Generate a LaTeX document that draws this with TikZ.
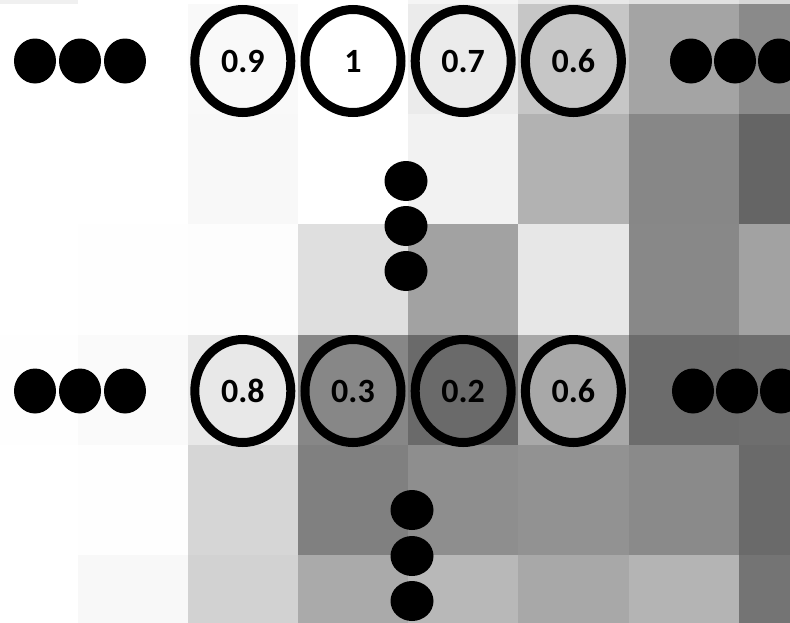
\documentclass[tikz,border=0pt]{standalone}
\usepackage{fontspec}
\setmainfont{Carlito}
\usetikzlibrary{shapes.geometric}
\newcommand\gcell[3]{\fill[color={rgb,255:red,#3;green,#3;blue,#3}] ({77.5+110.2*#1},{4+110.2*#2}) rectangle ++(110.4,110.4);}
\tikzset{
  valnode/.style={ellipse, draw=black, line width=9pt, minimum width=96pt, minimum height=103pt, inner sep=0pt,
    font=\bfseries\fontsize{34}{38}\selectfont},
  hdot/.style={ellipse, fill=black, minimum width=42pt, minimum height=45pt, inner sep=0pt},
  vdot/.style={ellipse, fill=black, minimum width=43pt, minimum height=40pt, inner sep=0pt}
}
\begin{document}
\begin{tikzpicture}[x=1pt,y=-1pt]
\useasboundingbox (0,0) rectangle (790,622);
\clip (0,0) rectangle (790,622);
\fill[white] (0,0) rectangle (790,622);
% background grid of grey cells: row -1
\foreach \c/\g in {-1/240,0/255,1/255,2/255,3/245,4/232,5/225,6/215} {\gcell{\c}{-1}{\g}}
% row 0
\foreach \c/\g in {-1/255,0/255,1/249,2/255,3/235,4/198,5/164,6/138} {\gcell{\c}{0}{\g}}
% row 1
\foreach \c/\g in {-1/255,0/255,1/248,2/255,3/242,4/178,5/135,6/101} {\gcell{\c}{1}{\g}}
% row 2
\foreach \c/\g in {-1/255,0/254,1/253,2/223,3/162,4/231,5/136,6/162} {\gcell{\c}{2}{\g}}
% row 3
\foreach \c/\g in {-1/254,0/250,1/232,2/135,3/106,4/168,5/108,6/110} {\gcell{\c}{3}{\g}}
% row 4
\foreach \c/\g in {-1/255,0/254,1/214,2/128,3/142,4/146,5/138,6/106} {\gcell{\c}{4}{\g}}
% row 5
\foreach \c/\g in {-1/255,0/248,1/210,2/170,3/184,4/168,5/180,6/116} {\gcell{\c}{5}{\g}}
% top row of values
\node[valnode] (a1) at (242.8,61) {0.9};
\node[valnode] (a2) at (353.0,61) {1};
\node[valnode] (a3) at (463.2,61) {0.7};
\node[valnode] (a4) at (573.4,61) {0.6};
% bottom row of values
\node[valnode] (b1) at (242.8,391) {0.8};
\node[valnode] (b2) at (353.0,391) {0.3};
\node[valnode] (b3) at (463.2,391) {0.2};
\node[valnode] (b4) at (573.4,391) {0.6};
% horizontal ellipsis dots
\node[hdot] (tl1) at (35,61) {};
\node[hdot] (tl2) at (80,61) {};
\node[hdot] (tl3) at (125,61) {};
\node[hdot] (tr1) at (691,61) {};
\node[hdot] (tr2) at (735,61) {};
\node[hdot] (tr3) at (779,61) {};
\node[hdot] (bl1) at (35,391) {};
\node[hdot] (bl2) at (80,391) {};
\node[hdot] (bl3) at (125,391) {};
\node[hdot] (br1) at (693,391) {};
\node[hdot] (br2) at (737,391) {};
\node[hdot] (br3) at (781,391) {};
% vertical ellipsis dots
\node[vdot] (tv1) at (406,181) {};
\node[vdot] (tv2) at (406,226) {};
\node[vdot] (tv3) at (406,271) {};
\node[vdot] (bv1) at (412,510) {};
\node[vdot] (bv2) at (412,556) {};
\node[vdot] (bv3) at (412,601) {};
\end{tikzpicture}
\end{document}
